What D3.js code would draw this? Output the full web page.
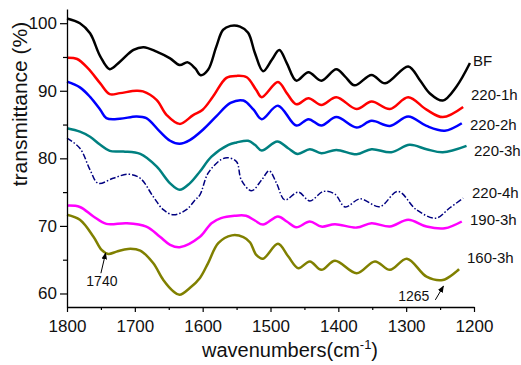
<!DOCTYPE html>
<html>
<head>
<meta charset="utf-8">
<script src="https://cdn.jsdelivr.net/npm/d3@7"></script>
<style>
  body { margin: 0; background: #fff; }
  svg { display: block; font-family: "Liberation Sans", Arial, sans-serif; }
</style>
</head>
<body>
<script>
var width = 521,
    height = 365,
    margin = {top: 9, right: 47, bottom: 58, left: 67};

// spectra: [wavenumber (cm-1), transmittance (%)]
var bf = [[1800,100.7],[1781,100.0],[1766,98.5],[1751,95.1],[1737,93.2],[1722,94.3],[1702,96.05],[1687,96.45],
  [1668,95.8],[1648,94.8],[1634,93.8],[1622,94.2],[1611,93.3],[1603,92.3],[1592,93.1],[1580,96.5],[1570,99.0],
  [1559,99.6],[1545,99.5],[1533,98.6],[1523,95.6],[1511,92.9],[1498,94.6],[1487,96.05],[1476,94.1],[1462,91.5],
  [1444,92.75],[1425,91.5],[1403,93.2],[1390,92.1],[1376,90.8],[1351,92.35],[1331,91.1],[1297,93.6],[1280,91.6],
  [1265,89.6],[1246,88.55],[1226,90.6],[1206,94.1]];

var h220_1 = [[1800,94.9],[1785,94.7],[1769,93.3],[1751,91.1],[1737,89.5],[1722,89.65],[1698,90.0],[1688,89.9],
  [1668,88.65],[1653,86.4],[1634,85.1],[1614,86.4],[1600,87.2],[1585,89.1],[1565,91.9],[1550,92.2],[1535,92.0],
  [1521,90.1],[1513,89.05],[1489,91.3],[1476,89.65],[1462,88.0],[1444,88.9],[1425,87.9],[1403,89.05],[1373,87.3],
  [1351,88.4],[1324,87.3],[1297,89.05],[1270,87.2],[1246,86.1],[1216,87.6]];

var h220_2 = [[1800,91.35],[1781,90.5],[1766,89.1],[1751,87.2],[1742,85.95],[1722,85.85],[1698,86.2],[1683,85.95],
  [1663,83.95],[1648,82.6],[1634,82.15],[1619,82.7],[1600,84.2],[1580,86.2],[1559,88.2],[1540,88.55],[1525,87.2],
  [1513,85.8],[1489,87.8],[1462,84.85],[1444,85.8],[1425,84.85],[1403,86.1],[1373,84.55],[1351,85.55],[1324,84.8],
  [1297,86.2],[1270,84.8],[1243,84.1],[1218,85.2]];

var h220_3 = [[1800,84.45],[1781,83.95],[1766,83.2],[1751,82.0],[1737,81.1],[1717,81.0],[1692,80.65],[1668,78.8],
  [1648,76.3],[1634,75.35],[1619,76.3],[1604,78.05],[1587,80.25],[1562,82.0],[1550,82.35],[1533,82.6],[1523,82.0],
  [1513,81.15],[1490,82.5],[1474,81.5],[1460,80.65],[1442,81.35],[1425,80.75],[1403,81.25],[1373,80.6],[1351,81.35],
  [1322,80.9],[1295,82.0],[1270,81.35],[1246,80.9],[1211,81.85]];

var h220_4 = [[1800,83.0],[1781,81.5],[1766,78.3],[1754,76.3],[1732,77.05],[1710,77.65],[1692,77.05],[1673,74.35],
  [1658,72.4],[1643,71.65],[1624,72.4],[1611,73.85],[1604,74.6],[1592,77.8],[1573,79.8],[1563,80.1],[1550,79.5],
  [1543,76.8],[1528,75.2],[1513,76.8],[1502,78.15],[1491,76.3],[1479,73.85],[1459,75.0],[1442,73.7],[1422,75.1],
  [1405,74.7],[1390,72.8],[1368,74.0],[1339,72.85],[1312,75.1],[1285,72.4],[1256,71.15],[1236,72.65],[1216,74.1]];

var h190_3 = [[1800,73.0],[1781,72.8],[1761,71.4],[1742,70.3],[1712,70.4],[1683,69.9],[1663,68.4],[1648,67.2],
  [1634,66.85],[1604,68.4],[1587,70.4],[1573,71.15],[1553,71.5],[1536,71.5],[1523,70.8],[1511,70.2],[1489,71.4],
  [1476,70.65],[1462,69.8],[1442,70.65],[1425,69.9],[1405,70.25],[1373,69.75],[1351,70.4],[1324,69.9],[1297,70.9],
  [1270,69.9],[1243,69.65],[1218,70.65]];

var h160_3 = [[1800,71.65],[1781,70.9],[1761,68.4],[1749,66.45],[1739,65.85],[1727,66.2],[1710,66.6],[1692,66.35],
  [1673,64.5],[1658,62.0],[1643,60.3],[1634,59.8],[1619,60.8],[1604,62.3],[1592,64.5],[1577,67.45],[1557,68.6],
  [1540,68.35],[1530,67.55],[1521,65.7],[1511,65.15],[1489,67.35],[1474,65.5],[1459,63.75],[1442,64.75],[1425,63.5],
  [1405,64.85],[1373,63.0],[1346,64.75],[1324,63.5],[1299,65.15],[1270,62.5],[1246,62.0],[1222,63.6]];

var seriesNames = ["BF", "220-1h", "220-2h", "220-3h", "220-4h", "190-3h", "160-3h"];
var seriesData = [bf, h220_1, h220_2, h220_3, h220_4, h190_3, h160_3];
var seriesColors = ["#000000", "#ff0000", "#0000ff", "#008080", "#000080", "#ff00ff", "#808000"];

var xMajor = [1800, 1700, 1600, 1500, 1400, 1300, 1200];
var xMinor = [1750, 1650, 1550, 1450, 1350, 1250];
var yMajor = [60, 70, 80, 90, 100];
var yMinor = [65, 75, 85, 95];

// peak annotations: label, arrow tail, arrow head
var peaks = [
  {label: "1740", from: [1750, 63.0], to: [1743, 66.0]},
  {label: "1265", from: [1257, 59.05], to: [1245, 61.1]}
];

var x = d3.scaleLinear().domain([1800, 1200]).range([margin.left, width - margin.right]);
var y = d3.scaleLinear().domain([58, 102.1]).range([height - margin.bottom, margin.top]);

var svg = d3.select("body").append("svg")
    .attr("width", width)
    .attr("height", height);

svg.append("rect").attr("width", width).attr("height", height).attr("fill", "#fff");

var line = d3.line()
    .x(function(d) { return x(d[0]); })
    .y(function(d) { return y(d[1]); })
    .curve(d3.curveCatmullRom.alpha(0.5));

svg.selectAll("path.spec")
    .data(seriesData)
  .enter().append("path")
    .attr("class", "spec")
    .attr("d", line)
    .attr("fill", "none")
    .attr("stroke", function(d, i) { return seriesColors[i]; })
    .attr("stroke-width", function(d, i) { return i == 4 ? 1.5 : 2.5; })
    .attr("stroke-dasharray", function(d, i) { return i == 4 ? "6,2,1.5,2" : null; })
    .attr("stroke-linejoin", "round");

// series labels at right end
var labelPos = [[473, 66], [471, 100], [470, 130], [474, 156], [472, 198], [470, 225], [467, 263]];
svg.selectAll("text.lab")
    .data(seriesNames)
  .enter().append("text")
    .attr("class", "lab")
    .attr("x", function(d, i) { return labelPos[i][0]; })
    .attr("y", function(d, i) { return labelPos[i][1]; })
    .attr("font-size", 15)
    .attr("fill", "#111")
    .text(function(d) { return d; });

// axes
function styleAxis(g) {
  g.select(".domain").attr("stroke", "#000").attr("stroke-width", 1.3);
  g.selectAll(".tick line").attr("stroke", "#000").attr("stroke-width", 1.2);
  g.selectAll(".tick text").attr("font-size", 17).attr("fill", "#111").attr("font-family", null);
}

var xAxisY = height - margin.bottom;
svg.append("g")
    .attr("transform", "translate(0," + xAxisY + ")")
    .call(d3.axisBottom(x).tickValues(xMinor).tickSize(3).tickFormat(""))
    .call(function(g) { g.select(".domain").remove(); })
    .call(styleAxis);
svg.append("g")
    .attr("transform", "translate(0," + xAxisY + ")")
    .call(d3.axisBottom(x).tickValues(xMajor).tickSize(5).tickPadding(8).tickSizeOuter(0)
      .tickFormat(d3.format("d")))
    .call(styleAxis);

svg.append("g")
    .attr("transform", "translate(" + margin.left + ",0)")
    .call(d3.axisLeft(y).tickValues(yMinor).tickSize(4).tickFormat(""))
    .call(function(g) { g.select(".domain").remove(); })
    .call(styleAxis);
svg.append("g")
    .attr("transform", "translate(" + margin.left + ",0)")
    .call(d3.axisLeft(y).tickValues(yMajor).tickSize(7).tickPadding(3).tickSizeOuter(0)
      .tickFormat(d3.format("d")))
    .call(styleAxis);

// axis titles
svg.append("text")
    .attr("transform", "translate(27,104) rotate(-90)")
    .attr("text-anchor", "middle")
    .attr("font-size", 21)
    .attr("fill", "#111")
    .text("transmittance (%)");

var xt = svg.append("text")
    .attr("x", 290)
    .attr("y", 357)
    .attr("text-anchor", "middle")
    .attr("font-size", 20)
    .attr("fill", "#111");
xt.append("tspan").text("wavenumbers(cm");
xt.append("tspan").attr("font-size", 13).attr("dy", -8).text("-1");
xt.append("tspan").attr("dy", 8).text(")");

// peak arrows
svg.append("defs").append("marker")
    .attr("id", "head")
    .attr("viewBox", "0 0 10 10")
    .attr("refX", 9).attr("refY", 5)
    .attr("markerWidth", 7).attr("markerHeight", 7)
    .attr("markerUnits", "userSpaceOnUse")
    .attr("orient", "auto")
  .append("path")
    .attr("d", "M0,1L10,5L0,9z")
    .attr("fill", "#000");

svg.selectAll("line.arrow")
    .data(peaks)
  .enter().append("line")
    .attr("class", "arrow")
    .attr("x1", function(d) { return x(d.from[0]); })
    .attr("y1", function(d) { return y(d.from[1]); })
    .attr("x2", function(d) { return x(d.to[0]); })
    .attr("y2", function(d) { return y(d.to[1]); })
    .attr("stroke", "#000")
    .attr("stroke-width", 1)
    .attr("marker-end", "url(#head)");

svg.selectAll("text.peak")
    .data(peaks)
  .enter().append("text")
    .attr("class", "peak")
    .attr("x", function(d, i) { return i == 0 ? x(d.from[0]) + 1 : x(d.from[0]) - 6; })
    .attr("y", function(d, i) { return i == 0 ? y(d.from[1]) + 13 : y(d.from[1]) + 1; })
    .attr("text-anchor", function(d, i) { return i == 0 ? "middle" : "end"; })
    .attr("font-size", 14)
    .attr("fill", "#111")
    .text(function(d) { return d.label; });
</script>
</body>
</html>
